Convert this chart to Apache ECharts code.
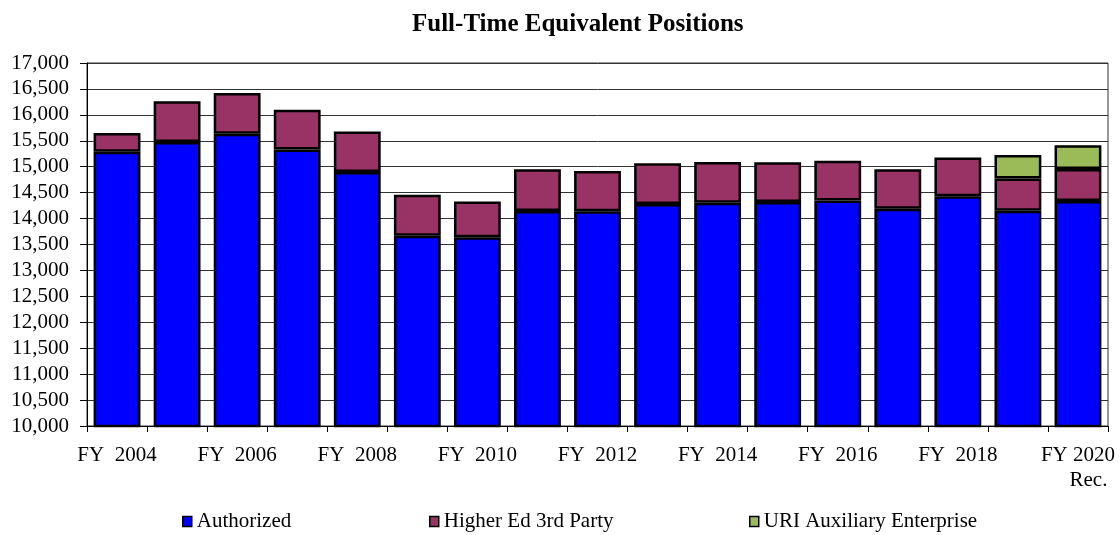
<!DOCTYPE html>
<html>
<head>
<meta charset="utf-8">
<script src="https://cdn.jsdelivr.net/npm/echarts@6/dist/echarts.min.js"></script>
<style>html,body{margin:0;padding:0;background:#fff}#c{width:1120px;height:535px}</style>
</head>
<body>
<div id="c"></div>
<script>
const categories = ['FY  2004','FY  2005','FY  2006','FY  2007','FY  2008','FY  2009','FY  2010','FY  2011','FY  2012','FY  2013','FY  2014','FY  2015','FY  2016','FY  2017','FY  2018','FY  2019','FY 2020\n    Rec.'];
const authorized = [15290,15475,15635,15330,14900,13670,13640,14145,14140,14280,14305,14320,14350,14190,14430,14150,14340];
const higherEd = [360,785,785,770,780,790,690,805,775,785,785,765,765,760,750,625,615];
const uriAux = [null,null,null,null,null,null,null,null,null,null,null,null,null,null,null,450,460];
const yTicks = {min:10000, max:17000, interval:500};

const FONT = '"Liberation Serif","Times New Roman",serif';
const chart = echarts.init(document.getElementById('c'));
const barStyle = c => ({color:c, borderColor:'#000', borderWidth:2.5});
function legendAt(name, left){
  return {data:[name], left:left, top:511, icon:'rect', itemWidth:9, itemHeight:10,
    itemStyle:{borderColor:'#000', borderWidth:1.5},
    textStyle:{fontFamily:FONT, fontSize:21, color:'#000'}, itemGap:2, padding:0};
}
chart.setOption({
  animation:false,
  title:{text:'Full-Time Equivalent Positions', left:407, top:7,
    textStyle:{fontFamily:FONT, fontSize:25, fontWeight:'bold', color:'#000'}},
  legend:[legendAt('Authorized',182), legendAt('Higher Ed 3rd Party',429), legendAt('URI Auxiliary Enterprise',749)],
  grid:{left:87, right:12, top:63, bottom:109, show:true, borderColor:'#333', borderWidth:1},
  xAxis:{type:'category', data:categories, boundaryGap:true,
    axisLine:{lineStyle:{color:'#000', width:1}},
    axisTick:{show:true, interval:0, length:6, lineStyle:{color:'#000'}},
    axisLabel:{interval:1, fontFamily:FONT, fontSize:21, color:'#000', margin:17, lineHeight:25}},
  yAxis:{type:'value', min:yTicks.min, max:yTicks.max, interval:yTicks.interval,
    axisLine:{show:true, lineStyle:{color:'#000', width:1}},
    axisTick:{show:true, length:7, lineStyle:{color:'#000'}},
    splitLine:{lineStyle:{color:'#333', width:1}},
    axisLabel:{fontFamily:FONT, fontSize:21, color:'#000', margin:18,
      formatter:v=>v.toLocaleString('en-US')}},
  series:[
    {name:'Authorized', type:'bar', stack:'t', data:authorized, barCategoryGap:'22%', itemStyle:barStyle('#0000FF')},
    {name:'Higher Ed 3rd Party', type:'bar', stack:'t', data:higherEd, itemStyle:barStyle('#993366')},
    {name:'URI Auxiliary Enterprise', type:'bar', stack:'t', data:uriAux, itemStyle:barStyle('#9BBB59')}
  ]
});
</script>
</body>
</html>
